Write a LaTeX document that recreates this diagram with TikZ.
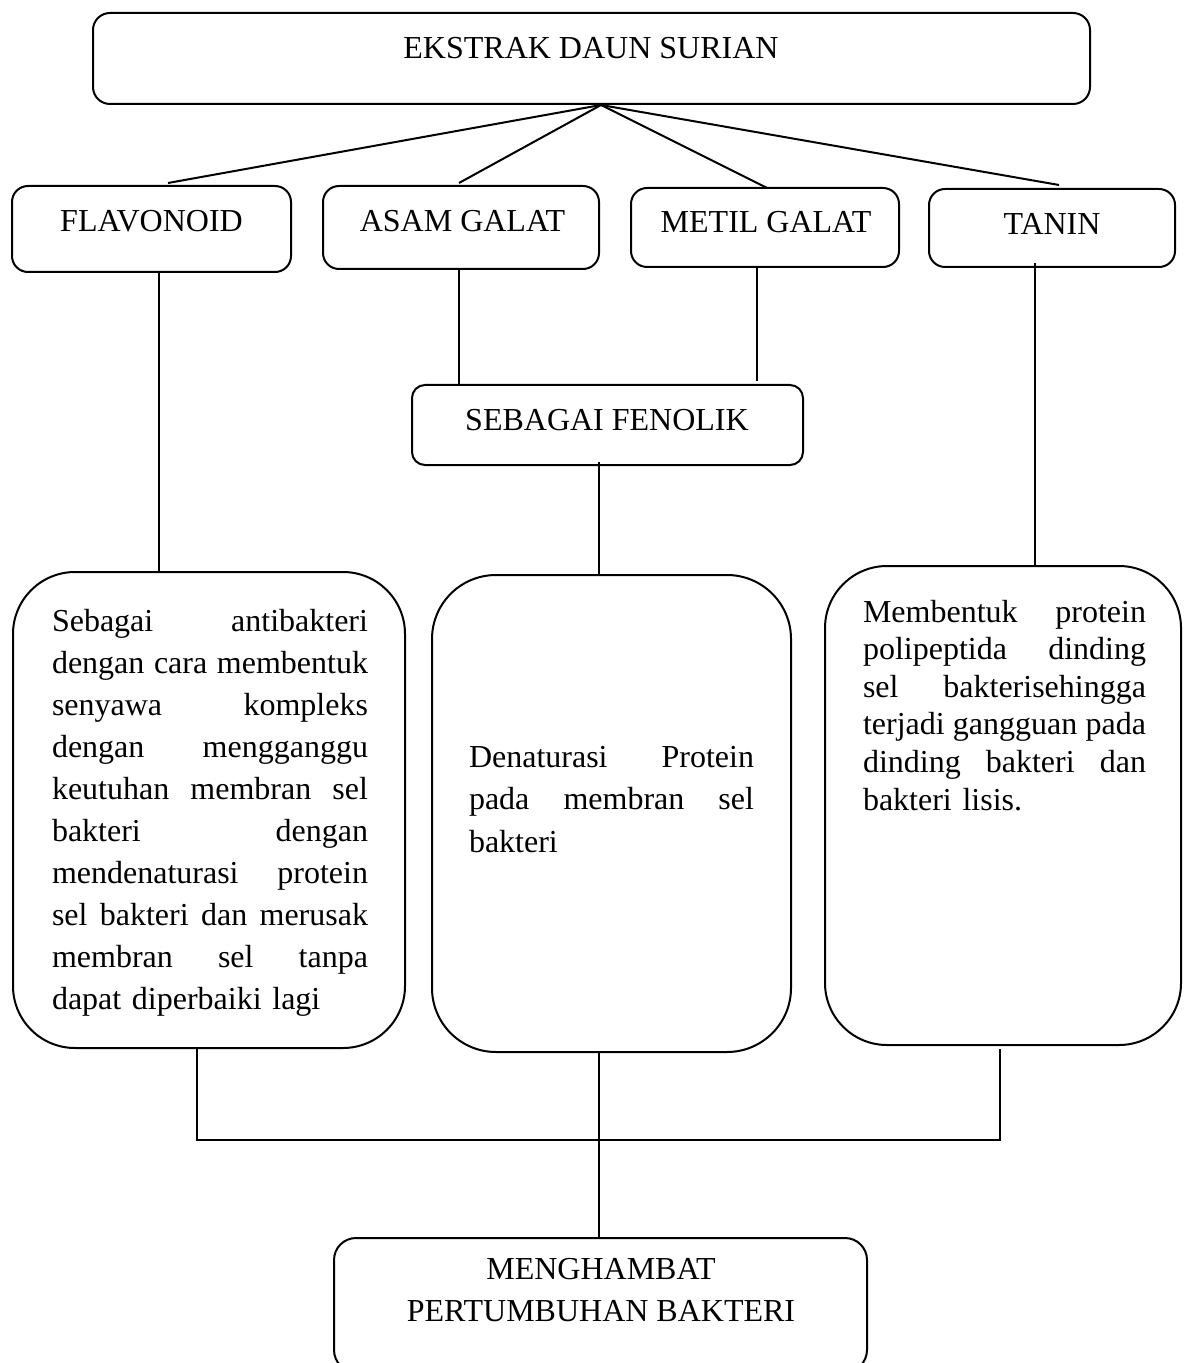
\documentclass[tikz,border=0pt]{standalone}
\usepackage{fontspec}
\setmainfont{Liberation Serif}
\usetikzlibrary{calc}
\newcommand\jlA[1]{{\spaceskip=0pt\xspaceskip=0pt\makebox[158pt][s]{#1}}}
\newcommand\jlB[1]{{\spaceskip=0pt\xspaceskip=0pt\makebox[142.5pt][s]{#1}}}
\newcommand\jlC[1]{{\spaceskip=0pt\xspaceskip=0pt\makebox[141.5pt][s]{#1}}}
\begin{document}
\begin{tikzpicture}[x=0.5pt,y=-0.5pt,line width=1pt,
  box/.style={draw,rounded corners=8pt,inner sep=0pt},
  bigbox/.style={draw,rounded corners=31pt,inner sep=0pt},
  lbl/.style={font=\fontsize{16}{21}\selectfont,inner sep=0pt,anchor=base},
  para/.style={inner sep=0pt,anchor=base west,align=left}]
\useasboundingbox (0,0) rectangle (1189,1363);
\clip (0,0) rectangle (1189,1363);
% boxes
\node[box,rounded corners=8.5pt,minimum width=498.5pt,minimum height=45.5pt] (top) at (591.5,58.5) {};
\node[box,minimum width=139.5pt,minimum height=43pt] (flav) at (151.5,229) {};
\node[box,minimum width=138pt,minimum height=41.5pt] (asam) at (461,227.5) {};
\node[box,minimum width=134pt,minimum height=39.5pt] (metil) at (765,227.5) {};
\node[box,minimum width=123pt,minimum height=39pt] (tanin) at (1052,228) {};
\node[box,rounded corners=6.5pt,minimum width=195.5pt,minimum height=40pt] (fenol) at (607.5,425) {};
\node[bigbox,minimum width=196pt,minimum height=238pt] (b1) at (209,810) {};
\node[bigbox,rounded corners=32pt,minimum width=179.5pt,minimum height=238.5pt] (b2) at (611.5,813.5) {};
\node[bigbox,minimum width=178pt,minimum height=239.5pt] (b3) at (1003,805.5) {};
\node[box,rounded corners=11pt,minimum width=266.5pt,minimum height=67pt] (res) at (600.5,1305) {};
% labels
\node[lbl] (tTop) at (591,59) {EKSTRAK DAUN SURIAN};
\node[lbl] (tFlav) at (151.5,232) {FLAVONOID};
\node[lbl] (tAsam) at (462.5,232) {ASAM GALAT};
\node[lbl] (tMetil) at (766,233) {METIL GALAT};
\node[lbl] (tTanin) at (1052,235) {TANIN};
\node[lbl] (tFenol) at (607,430) {SEBAGAI FENOLIK};
\node[lbl] (tRes1) at (601,1279) {MENGHAMBAT};
\node[lbl] (tRes2) at (601,1321) {PERTUMBUHAN BAKTERI};
% paragraphs
\node[para,font=\fontsize{16}{21}\selectfont,text width=158pt] (p1) at (51,631) {%
\jlA{Sebagai antibakteri}\\
\jlA{dengan cara membentuk}\\
\jlA{senyawa kompleks}\\
\jlA{dengan mengganggu}\\
\jlA{keutuhan membran sel}\\
\jlA{bakteri dengan}\\
\jlA{mendenaturasi protein}\\
\jlA{sel bakteri dan merusak}\\
\jlA{membran sel tanpa}\\
dapat diperbaiki lagi};
\node[para,font=\fontsize{16}{21.25}\selectfont,text width=142.5pt] (p2) at (468,767) {%
\jlB{Denaturasi Protein}\\
\jlB{pada membran sel}\\
bakteri};
\node[para,font=\fontsize{16}{18.8}\selectfont,text width=141.5pt] (p3) at (862,622) {%
\jlC{Membentuk protein}\\
\jlC{polipeptida dinding}\\
\jlC{sel bakterisehingga}\\
\jlC{terjadi gangguan pada}\\
\jlC{dinding bakteri dan}\\
bakteri lisis.};
% fan connectors
\coordinate (apex) at ($(top.south)+(9.5,0)$);
\draw (apex) -- ($(flav.north)+(16.5,-2)$);
\draw (apex) -- ($(asam.north)+(-2,-2)$);
\draw (apex) -- ($(metil.north)+(2,1)$);
\draw (apex) -- ($(tanin.north)+(7,-3)$);
% vertical connectors
\draw ($(flav.south)+(7.5,0)$) coordinate (f1) -- (f1 |- b1.north);
\draw ($(asam.south)+(-2,0)$) coordinate (a1) -- (a1 |- fenol.north);
\draw ($(metil.south)+(-8,-1)$) coordinate (m1) -- ($(m1 |- fenol.north)+(0,-3)$);
\draw ($(tanin.south)+(-17,-5)$) coordinate (t1) -- (t1 |- b3.north);
\draw ($(fenol.south)+(-8.5,-4)$) coordinate (s1) -- ($(s1 |- b2.north)+(0,2)$);
% bottom bus
\coordinate (bus) at (600,1140);
\draw ($(b1.south)+(-12,0)$) coordinate (q1) -- (q1 |- bus) -| ($(b3.south)+(-3,3)$);
\draw ($(b2.south)+(-12.5,0)$) coordinate (q2) -- (q2 |- res.north);
\end{tikzpicture}
\end{document}
